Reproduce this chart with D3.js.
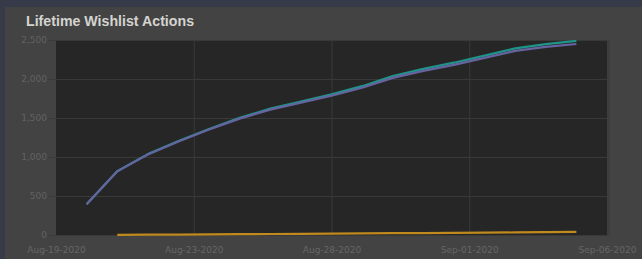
<!DOCTYPE html>
<html>
<head>
<meta charset="utf-8">
<script src="https://cdn.jsdelivr.net/npm/d3@7"></script>
<style>
html,body{margin:0;padding:0;background:#363a49;}
svg{display:block;}
</style>
</head>
<body>
<svg id="chart" width="642" height="259"></svg>
<script>
const titleText = "Lifetime Wishlist Actions";
const dates = ["2020-08-20","2020-08-21","2020-08-22","2020-08-23","2020-08-24","2020-08-25","2020-08-26","2020-08-27","2020-08-28","2020-08-29","2020-08-30","2020-08-31","2020-09-01","2020-09-02","2020-09-03","2020-09-04","2020-09-05"];
const additions = [395, 818, 1037, 1205, 1360, 1502, 1620, 1711, 1804, 1908, 2038, 2130, 2209, 2300, 2393, 2447, 2489];
const netWishlist = [395, 816, 1033, 1199, 1352, 1492, 1607, 1696, 1786, 1888, 2015, 2105, 2181, 2270, 2360, 2411, 2449];
const deletions = [null, 2, 4, 6, 8, 10, 13, 15, 18, 20, 23, 25, 28, 30, 33, 36, 40];
const yTicks = [0, 500, 1000, 1500, 2000, 2500];
const xStart = "2020-08-19", xEnd = "2020-09-06";

const parse = d3.timeParse("%Y-%m-%d");
const svg = d3.select("#chart");
const W = 642, H = 259;

// backgrounds
svg.append("rect").attr("x",0).attr("y",0).attr("width",W).attr("height",H).attr("fill","#363a49");
svg.append("rect").attr("x",5).attr("y",7).attr("width",W-5).attr("height",H-7).attr("fill","#434343");

const pL = 56, pR = 607, pT = 40, pB = 235;
svg.append("rect").attr("x",pL).attr("y",pT).attr("width",pR-pL).attr("height",pB-pT).attr("fill","#262626");
svg.append("rect").attr("x",pR).attr("y",pT).attr("width",3).attr("height",pB-pT+1).attr("fill","#3d3d3d");

svg.append("text").attr("x",26).attr("y",26).text(titleText)
  .attr("font-family","Liberation Sans, Arial, sans-serif").attr("font-weight","bold")
  .attr("font-size",14.2).attr("fill","#d4d4d0");

const x = d3.scaleTime().domain([parse(xStart), parse(xEnd)]).range([pL, pR]);
const y = d3.scaleLinear().domain([0, 2500]).range([pB, pT]);

const start = parse(xStart).getTime();
const xTickVals = d3.range(5).map(k => new Date(start + k * 4.5 * 86400000));
const fmt = d3.timeFormat("%b-%d-%Y");

// horizontal grid + left ticks
const yAxis = d3.axisLeft(y).tickValues(yTicks).tickFormat(d3.format(",")).tickSize(pR - pL + 7).tickPadding(2);
const gy = svg.append("g").attr("transform", `translate(${pR},0)`).call(yAxis);
gy.select(".domain").remove();
gy.selectAll(".tick line").attr("stroke","#393939").attr("stroke-width",1);
gy.selectAll(".tick text").attr("fill","#626262").attr("font-size",9)
  .attr("font-family","DejaVu Sans, sans-serif");

// vertical grid
const xAxis = d3.axisBottom(x).tickValues(xTickVals).tickFormat(fmt).tickSize(-(pB - pT)).tickPadding(12);
const gx = svg.append("g").attr("transform", `translate(0,${pB})`).call(xAxis);
gx.select(".domain").remove();
gx.selectAll(".tick line").attr("stroke","#383838").attr("stroke-width",1)
  .attr("display", (d,i) => (i === 0 || i === 4) ? "none" : null);
gx.selectAll(".tick text").attr("fill","#666666").attr("font-size",9)
  .attr("font-family","DejaVu Sans, sans-serif");

const mk = vals => dates.map((d,i) => ({date: parse(d), v: vals[i]}));
const line = d3.line().defined(d => d.v != null).x(d => x(d.date)).y(d => y(d.v));

const series = [
  {vals: additions, color: "#1f9488"},
  {vals: netWishlist, color: "#6664a0"},
  {vals: deletions, color: "#c08a1e"}
];
series.forEach(s => {
  svg.append("path").datum(mk(s.vals)).attr("d", line)
    .attr("fill","none").attr("stroke", s.color).attr("stroke-width", 2.2)
    .attr("stroke-linejoin","round");
});
</script>
</body>
</html>
